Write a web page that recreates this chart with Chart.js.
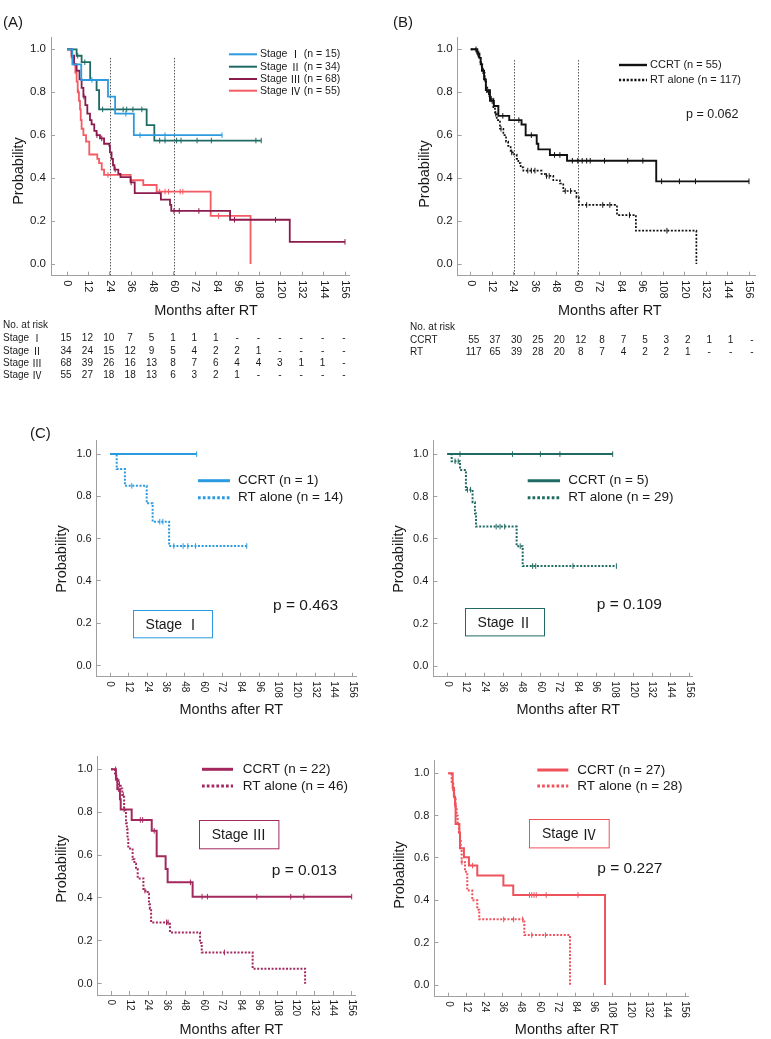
<!DOCTYPE html>
<html>
<head>
<meta charset="utf-8">
<script src="https://cdn.jsdelivr.net/npm/chart.js@4.4.1/dist/chart.umd.min.js"></script>
<style>
  body{margin:0;background:#fff;width:771px;height:1039px;position:relative;overflow:hidden;
       font-family:"Liberation Sans",Arial,"Noto Sans CJK JP",sans-serif}
  .pl{position:absolute;font-size:15px;color:#1a1a1a;line-height:16px;z-index:2}
  canvas{display:block}
</style>
</head>
<body>
<div class="pl" style="left:3px;top:14px">(A)</div>
<div class="pl" style="left:393px;top:14px">(B)</div>
<div class="pl" style="left:30px;top:425px">(C)</div>

<script>
// ---- axis ticks ----
const monthTicks = [0, 12, 24, 36, 48, 60, 72, 84, 96, 108, 120, 132, 144, 156];
const probTicks = [0, 0.2, 0.4, 0.6, 0.8, 1.0];
const refMonths = [24, 60];

// ---- (A) by stage: step times (months), survival, censor times ----
const aS1T = [0, 3, 8, 23, 27, 37.5, 87];
const aS1S = [1, 0.93, 0.857, 0.78, 0.70, 0.60, 0.60];
const aS1C = [14, 33, 41, 55, 87];
const aS2T = [0, 5.4, 8.2, 13, 16.6, 18, 44.7, 49, 109];
const aS2S = [1, 0.97, 0.94, 0.857, 0.81, 0.72, 0.647, 0.575, 0.575];
const aS2C = [6, 10, 20, 31.5, 33.5, 37, 42, 52, 55, 61.5, 64, 73, 81, 106, 109];
const aS3T = [0, 2.6, 4, 5.4, 7, 8.2, 9.2, 10.3, 11.4, 12.9, 13.8, 15.3, 16.6, 18.5, 20.8, 23.8, 24.1, 25, 25.8, 26.6, 28.8, 30, 35.7, 38, 52.7, 57.8, 58.5, 91.5, 125, 156];
const aS3S = [1, 0.97, 0.93, 0.90, 0.86, 0.82, 0.78, 0.74, 0.70, 0.67, 0.65, 0.62, 0.60, 0.585, 0.56, 0.55, 0.52, 0.49, 0.46, 0.44, 0.42, 0.405, 0.38, 0.33, 0.30, 0.275, 0.247, 0.206, 0.103, 0.103];
const aS3C = [9.5, 16.8, 19.5, 27, 36, 60, 63, 74, 94, 117, 156];
const aS4T = [0, 2.6, 4, 4.7, 5.4, 6, 6.7, 7.3, 7.7, 8.2, 9.2, 10.7, 12.5, 17, 18, 19.5, 20.8, 35.7, 42.8, 50.3, 80.6, 103];
const aS4S = [1, 0.96, 0.93, 0.89, 0.85, 0.80, 0.76, 0.72, 0.67, 0.63, 0.60, 0.57, 0.51, 0.49, 0.47, 0.44, 0.415, 0.39, 0.368, 0.337, 0.224, 0];
const aS4C = [6.5, 23, 52, 55, 57, 63.5, 65, 85];
const aRiskRows = ['Stage Ⅰ', 'Stage Ⅱ', 'Stage Ⅲ', 'Stage Ⅳ'];
const aRisk1 = ['15', '12', '10', '7', '5', '1', '1', '1', '-', '-', '-', '-', '-', '-'];
const aRisk2 = ['34', '24', '15', '12', '9', '5', '4', '2', '2', '1', '-', '-', '-', '-'];
const aRisk3 = ['68', '39', '26', '16', '13', '8', '7', '6', '4', '4', '3', '1', '1', '-'];
const aRisk4 = ['55', '27', '18', '18', '13', '6', '3', '2', '1', '-', '-', '-', '-', '-'];

// ---- (B) CCRT vs RT alone ----
const bCcT = [0, 3.7, 4.9, 5.6, 6.3, 7.5, 8.5, 10.8, 13, 15.5, 21.6, 28.5, 30.8, 37, 37.9, 44.4, 54, 104, 156];
const bCcS = [1, 0.98, 0.96, 0.93, 0.90, 0.86, 0.81, 0.76, 0.736, 0.69, 0.67, 0.65, 0.60, 0.56, 0.534, 0.508, 0.481, 0.385, 0.385];
const bCcC = [3, 4.5, 7, 9, 12, 18, 27, 34, 47, 50, 57, 60, 62.5, 65, 67, 75, 88, 96.5, 107, 117, 126, 156];
const bRtT = [0, 3.3, 4.5, 5.5, 6.5, 7, 7.8, 8.5, 9.3, 10.5, 12.7, 13.6, 14.6, 16.4, 18.3, 19.8, 21, 22.4, 24.3, 25.8, 26.7, 28, 29.5, 39.7, 41.6, 46.3, 50, 51.9, 59.3, 60.6, 82, 92.6, 126.5];
const bRtS = [1, 0.98, 0.96, 0.93, 0.91, 0.89, 0.86, 0.83, 0.80, 0.77, 0.73, 0.70, 0.67, 0.63, 0.60, 0.57, 0.55, 0.52, 0.51, 0.49, 0.47, 0.45, 0.435, 0.42, 0.41, 0.39, 0.375, 0.34, 0.31, 0.275, 0.228, 0.155, 0];
const bRtC = [4, 6, 8, 10, 11.5, 14, 17, 23, 32, 34, 36, 42.5, 44, 53, 56, 65, 74, 78, 89, 110];
const bRiskRows = ['CCRT', 'RT'];
const bRiskCc = ['55', '37', '30', '25', '20', '12', '8', '7', '5', '3', '2', '1', '1', '-'];
const bRiskRt = ['117', '65', '39', '28', '20', '8', '7', '4', '2', '2', '1', '-', '-', '-'];

// ---- (C) by stage, CCRT vs RT alone ----
const c1CcT = [0, 55.7], c1CcS = [1, 1], c1CcC = [55.7];
const c1RtT = [0, 4.3, 9.6, 23.6, 27.4, 38, 87.9];
const c1RtS = [1, 0.929, 0.85, 0.767, 0.68, 0.565, 0.565];
const c1RtC = [14, 32, 34, 41, 47, 50, 55, 87.9];

const c2CcT = [0, 106.6], c2CcS = [1, 1], c2CcC = [8.2, 42, 60, 72.6, 106.6];
const c2RtT = [0, 2.8, 8.2, 12, 16.3, 17.8, 18.5, 44.7, 48.6, 109];
const c2RtS = [1, 0.966, 0.925, 0.832, 0.773, 0.72, 0.658, 0.566, 0.472, 0.472];
const c2RtC = [5, 7, 13, 15, 31.5, 34, 37, 47, 55, 57, 81, 109];

const c3CcT = [0, 3.2, 4.1, 5.8, 6.3, 13.4, 26.4, 29.6, 35.4, 36.7, 52.9, 156];
const c3CcS = [1, 0.955, 0.907, 0.86, 0.813, 0.764, 0.713, 0.594, 0.535, 0.473, 0.406, 0.406];
const c3CcC = [3, 5, 8.5, 19, 20.5, 28, 51.5, 59, 62.5, 94.5, 116.5, 125, 156];
const c3RtT = [0, 2.6, 3.5, 4.8, 6.3, 7.3, 8.5, 9.7, 10.3, 10.7, 11.2, 14, 15.2, 16.2, 17.3, 21, 23.8, 24.6, 25.2, 26, 38.2, 57.7, 58.8, 91.8, 125.8];
const c3RtS = [1, 0.97, 0.95, 0.93, 0.91, 0.88, 0.81, 0.748, 0.72, 0.68, 0.631, 0.58, 0.56, 0.535, 0.491, 0.434, 0.42, 0.37, 0.35, 0.286, 0.239, 0.19, 0.146, 0.07, 0];
const c3RtC = [4, 5.5, 8, 22, 36, 37, 73.5];

const c4CcT = [0, 2.9, 3.7, 4.4, 4.8, 7.3, 7.7, 10.3, 13.6, 19.1, 36.3, 42.8, 103.3];
const c4CcS = [1, 0.93, 0.89, 0.85, 0.76, 0.72, 0.646, 0.603, 0.564, 0.517, 0.47, 0.425, 0];
const c4CcC = [3, 16, 53.5, 55, 56.5, 58, 64.5, 85.5];
const c4RtT = [0, 2.2, 3.3, 3.9, 4.8, 5.5, 6.2, 7, 7.7, 8.2, 8.8, 11, 12.5, 15.8, 19.1, 20.4, 50.1, 80.2];
const c4RtS = [1, 0.96, 0.92, 0.88, 0.84, 0.80, 0.76, 0.72, 0.68, 0.64, 0.58, 0.535, 0.446, 0.40, 0.356, 0.31, 0.236, 0];
const c4RtC = [5, 9, 36.5, 43, 49, 55, 64];

// ---- styles ----
const FAM = '"Liberation Sans", Arial, "Noto Sans CJK JP", sans-serif';
const CJK = '"Noto Sans CJK JP", "Liberation Sans", sans-serif';
const TXT = '#1a1a1a';
const AXIS = '#a0a0a0';
const BLUE = '#2b9ae0', TEAL = '#1f6b64', MAROON = '#8c1a4c', SALMON = '#f45b62';
const RASP = '#a3285e', RED = '#f0525c';
const DOT = [2, 1.6];

function levelAt(T, S, t) {
  let s = S[0];
  for (let i = 0; i < T.length; i++) if (T[i] <= t) s = S[i];
  return s;
}
function curve(label, T, S, C, color, dash, width) {
  return [
    { label, data: T.map((t, i) => ({ x: t, y: S[i] })), stepped: true, borderColor: color,
      borderWidth: width, borderDash: dash, pointRadius: 0, fill: false },
    { label: '', censor: true, data: C.map(t => ({ x: t, y: levelAt(T, S, t) })), showLine: false,
      pointStyle: 'line', pointRotation: 90, pointRadius: 2.8, pointBorderColor: color,
      pointBorderWidth: 1, borderColor: color }
  ];
}

// text with full-width roman numerals drawn in the CJK face
function mixedText(ctx, text, x, y, size, align) {
  const parts = [];
  for (const ch of text) {
    const wide = ch >= '\u2160' && ch <= '\u216f';
    const last = parts[parts.length - 1];
    if (last && last.wide === wide) last.s += ch; else parts.push({ s: ch, wide });
  }
  let total = 0;
  parts.forEach(p => {
    ctx.font = size + 'px ' + (p.wide ? CJK : FAM);
    p.w = ctx.measureText(p.s).width;
    total += p.w;
  });
  let cx = align === 'center' ? x - total / 2 : x;
  ctx.textAlign = 'left';
  parts.forEach(p => {
    ctx.font = size + 'px ' + (p.wide ? CJK : FAM);
    ctx.fillText(p.s, cx, y);
    cx += p.w;
  });
}

const kmPlugin = {
  id: 'km',
  beforeDatasetsDraw(chart) {
    const o = chart.options.plugins.km, ctx = chart.ctx;
    const xs = chart.scales.x, ys = chart.scales.y;
    if (!o.refs) return;
    ctx.save();
    ctx.strokeStyle = '#555'; ctx.lineWidth = 1; ctx.setLineDash([1.5, 1.5]);
    o.refs.forEach(m => {
      const px = Math.round(xs.getPixelForValue(m)) + 0.5;
      ctx.beginPath(); ctx.moveTo(px, ys.getPixelForValue(o.refTop)); ctx.lineTo(px, ys.bottom); ctx.stroke();
    });
    ctx.restore();
  },
  afterDraw(chart) {
    const o = chart.options.plugins.km, ctx = chart.ctx;
    const xs = chart.scales.x;
    const ox = o.ox, oy = o.oy;
    ctx.save();
    ctx.fillStyle = TXT;
    // rotated month labels
    ctx.font = o.xFont + 'px ' + FAM;
    ctx.textAlign = 'left'; ctx.textBaseline = 'middle';
    xs.ticks.forEach(t => {
      ctx.save();
      ctx.translate(xs.getPixelForValue(t.value), xs.top + o.xGap);
      ctx.rotate(Math.PI / 2);
      ctx.fillText(String(t.value), 0, 0);
      ctx.restore();
    });
    // axis titles
    ctx.font = o.titleFont + 'px ' + FAM;
    ctx.textAlign = 'center';
    ctx.fillText('Months after RT', (xs.getPixelForValue(0) + xs.getPixelForValue(156)) / 2, o.xTitleY - oy);
    ctx.save();
    ctx.translate(o.yTitle[0] - ox, o.yTitle[1] - oy);
    ctx.rotate(-Math.PI / 2);
    ctx.fillText('Probability', 0, 0);
    ctx.restore();
    // legend
    const lg = o.legend;
    const items = chart.data.datasets.filter(d => !d.censor && d.label);
    items.forEach((d, i) => {
      const y = lg.ys[i] - oy;
      ctx.save();
      ctx.strokeStyle = d.borderColor; ctx.lineWidth = lg.lw;
      ctx.setLineDash(d.borderDash && d.borderDash.length ? [lg.lw * 0.9, lg.lw * 0.7] : []);
      ctx.beginPath(); ctx.moveTo(lg.x0 - ox, y); ctx.lineTo(lg.x1 - ox, y); ctx.stroke();
      ctx.restore();
      mixedText(ctx, d.label, lg.tx - ox, y, lg.font, 'left');
    });
    // p value
    if (o.p) {
      ctx.font = o.p.font + 'px ' + FAM;
      ctx.textAlign = 'left';
      ctx.fillText(o.p.text, o.p.x - ox, o.p.y - oy);
    }
    // stage box
    if (o.box) {
      const b = o.box;
      ctx.strokeStyle = b.color; ctx.lineWidth = 1;
      ctx.strokeRect(Math.round(b.x - ox) + 0.5, Math.round(b.y - oy) + 0.5, b.w, b.h);
      mixedText(ctx, b.text, b.x - ox + b.w / 2, b.y - oy + b.h / 2 + 1, b.font, 'center');
    }
    // numbers at risk
    if (o.table) {
      const tb = o.table;
      ctx.font = tb.font + 'px ' + FAM;
      ctx.textAlign = 'left';
      ctx.fillText('No. at risk', tb.x - ox, tb.hy - oy);
      tb.rows.forEach(r => {
        mixedText(ctx, r.label, tb.x - ox, r.y - oy, tb.font, 'left');
        ctx.font = tb.font + 'px ' + FAM;
        ctx.textAlign = 'center';
        xs.ticks.forEach((t, i) => {
          if (r.vals[i] !== undefined) ctx.fillText(r.vals[i], xs.getPixelForValue(t.value) + (tb.dx || 0), r.y - oy);
        });
      });
    }
    ctx.restore();
  }
};

function panel(p) {
  const wrap = document.createElement('div');
  wrap.style.cssText = `position:absolute;left:${p.left}px;top:${p.top}px;width:${p.w}px;height:${p.h}px`;
  const cv = document.createElement('canvas');
  cv.width = p.w; cv.height = p.h;
  cv.style.width = p.w + 'px'; cv.style.height = p.h + 'px';
  wrap.appendChild(cv);
  document.body.appendChild(wrap);

  const kx = (p.x156 - p.x0) / 156, ky = p.y0 - p.y1;
  const xMin = -(p.x0 - p.L) / kx, xMax = 156 + (p.R - p.x156) / kx;
  const yMax = 1 + (p.y1 - p.T) / ky, yMin = -(p.B - p.y0) / ky;
  const L = p.L - p.left, R = p.R - p.left, T = p.T - p.top, B = p.B - p.top;
  const yW = 30, xH = 12;

  new Chart(cv, {
    type: 'line',
    data: { datasets: p.datasets },
    options: {
      responsive: false, animation: false, devicePixelRatio: 1, events: [],
      layout: { padding: { left: L - yW, right: p.w - R, top: T, bottom: p.h - B - xH } },
      scales: {
        x: {
          type: 'linear', min: xMin, max: xMax,
          afterBuildTicks: s => { s.ticks = monthTicks.map(v => ({ value: v })); },
          afterFit: s => { s.height = xH; },
          ticks: { display: false },
          grid: { drawOnChartArea: false, tickLength: -4, color: AXIS },
          border: { color: AXIS, width: 1 }
        },
        y: {
          type: 'linear', min: yMin, max: yMax,
          afterBuildTicks: s => { s.ticks = probTicks.map(v => ({ value: v })); },
          afterFit: s => { s.width = yW; },
          ticks: { font: { family: FAM, size: p.yFont }, color: TXT, padding: 9, callback: v => v.toFixed(1) },
          grid: { drawOnChartArea: false, tickLength: -4, color: AXIS },
          border: { color: AXIS, width: 1 }
        }
      },
      plugins: {
        legend: { display: false }, tooltip: { enabled: false },
        km: {
          ox: p.left, oy: p.top, xFont: p.xFont, xGap: p.xGap, titleFont: p.titleFont,
          xTitleY: p.xTitleY, yTitle: p.yTitle, legend: p.legend, p: p.p, box: p.box,
          table: p.table, refs: p.refs, refTop: p.refTop
        }
      }
    },
    plugins: [kmPlugin]
  });
}

// (A)
panel({
  left: 0, top: 0, w: 390, h: 390,
  L: 51, R: 349, T: 37, B: 275.7, x0: 67, x156: 345, y1: 49.3, y0: 264,
  yFont: 11.5, xFont: 11, xGap: 4.5, titleFont: 14.5, xTitleY: 311, yTitle: [19, 171],
  refs: refMonths, refTop: 0.96,
  datasets: [
    ...curve('Stage Ⅰ (n = 15)', aS1T, aS1S, aS1C, BLUE, [], 1.8),
    ...curve('Stage Ⅱ (n = 34)', aS2T, aS2S, aS2C, TEAL, [], 1.8),
    ...curve('Stage Ⅲ (n = 68)', aS3T, aS3S, aS3C, MAROON, [], 1.8),
    ...curve('Stage Ⅳ (n = 55)', aS4T, aS4S, aS4C, SALMON, [], 1.8)
  ],
  legend: { x0: 229, x1: 257, tx: 260, ys: [54.3, 66.7, 79, 90.7], font: 10.5, lw: 2 },
  table: { x: 3, hy: 325, font: 10, dx: -1, rows: [
    { label: aRiskRows[0], vals: aRisk1, y: 338 },
    { label: aRiskRows[1], vals: aRisk2, y: 351 },
    { label: aRiskRows[2], vals: aRisk3, y: 363 },
    { label: aRiskRows[3], vals: aRisk4, y: 375 }
  ] }
});

// (B)
panel({
  left: 390, top: 0, w: 381, h: 390,
  L: 457.7, R: 755, T: 37, B: 275.7, x0: 470.7, x156: 749, y1: 49.3, y0: 264,
  yFont: 11.5, xFont: 11, xGap: 4.5, titleFont: 14.5, xTitleY: 311, yTitle: [425, 174],
  refs: refMonths, refTop: 0.95,
  datasets: [
    ...curve('CCRT (n = 55)', bCcT, bCcS, bCcC, '#111', [], 1.9),
    ...curve('RT alone (n = 117)', bRtT, bRtS, bRtC, '#111', DOT, 1.7)
  ],
  legend: { x0: 619, x1: 647, tx: 650, ys: [65, 80], font: 11, lw: 2.4 },
  p: { text: 'p = 0.062', x: 686, y: 115, font: 12.5 },
  table: { x: 410, hy: 327, font: 10, dx: 3, rows: [
    { label: bRiskRows[0], vals: bRiskCc, y: 340 },
    { label: bRiskRows[1], vals: bRiskRt, y: 352 }
  ] }
});

// (C) Stage I
panel({
  left: 0, top: 425, w: 385, h: 300,
  L: 96.7, R: 356, T: 437, B: 676.7, x0: 110, x156: 352.7, y1: 450.7, y0: 665.3,
  yFont: 11, xFont: 10, xGap: 4.5, titleFont: 14.5, xTitleY: 710, yTitle: [62, 559],
  datasets: [
    ...curve('CCRT (n = 1)', c1CcT, c1CcS, c1CcC, BLUE, [], 2),
    ...curve('RT alone (n = 14)', c1RtT, c1RtS, c1RtC, BLUE, DOT, 2)
  ],
  legend: { x0: 198, x1: 230, tx: 238, ys: [480.7, 497.7], font: 13.5, lw: 3 },
  p: { text: 'p = 0.463', x: 273, y: 605.7, font: 15.5 },
  box: { text: 'Stage Ⅰ', x: 133.3, y: 610, w: 79, h: 27.3, color: BLUE, font: 14 }
});

// (C) Stage II
panel({
  left: 385, top: 425, w: 386, h: 300,
  L: 433.3, R: 692.7, T: 437, B: 676.7, x0: 447.3, x156: 689.3, y1: 450.7, y0: 666,
  yFont: 11, xFont: 10, xGap: 4.5, titleFont: 14.5, xTitleY: 710, yTitle: [399, 559],
  datasets: [
    ...curve('CCRT (n = 5)', c2CcT, c2CcS, c2CcC, TEAL, [], 2),
    ...curve('RT alone (n = 29)', c2RtT, c2RtS, c2RtC, TEAL, DOT, 2)
  ],
  legend: { x0: 527.7, x1: 560, tx: 568.3, ys: [480.7, 497.7], font: 13.5, lw: 3 },
  p: { text: 'p = 0.109', x: 596.7, y: 605, font: 15.5 },
  box: { text: 'Stage Ⅱ', x: 465.3, y: 608.3, w: 79, h: 27.4, color: TEAL, font: 14 }
});

// (C) Stage III
panel({
  left: 0, top: 735, w: 385, h: 304,
  L: 97.7, R: 355, T: 756, B: 995, x0: 111, x156: 351.7, y1: 769.3, y0: 983.7,
  yFont: 11, xFont: 10, xGap: 4.5, titleFont: 14.5, xTitleY: 1030, yTitle: [62, 869],
  datasets: [
    ...curve('CCRT (n = 22)', c3CcT, c3CcS, c3CcC, RASP, [], 2),
    ...curve('RT alone (n = 46)', c3RtT, c3RtS, c3RtC, RASP, DOT, 2)
  ],
  legend: { x0: 202, x1: 233, tx: 242.7, ys: [769.3, 786], font: 13.5, lw: 3 },
  p: { text: 'p = 0.013', x: 271.7, y: 870.7, font: 15.5 },
  box: { text: 'Stage Ⅲ', x: 199.3, y: 820, w: 79.4, h: 28.3, color: RASP, font: 14 }
});

// (C) Stage IV
panel({
  left: 385, top: 735, w: 386, h: 304,
  L: 434.3, R: 688.3, T: 760, B: 996.7, x0: 448.3, x156: 685, y1: 773.3, y0: 985,
  yFont: 11, xFont: 10, xGap: 4.5, titleFont: 14.5, xTitleY: 1030, yTitle: [400, 875],
  datasets: [
    ...curve('CCRT (n = 27)', c4CcT, c4CcS, c4CcC, RED, [], 2),
    ...curve('RT alone (n = 28)', c4RtT, c4RtS, c4RtC, RED, DOT, 2)
  ],
  legend: { x0: 537.3, x1: 568.3, tx: 577.3, ys: [770, 786], font: 13.5, lw: 3 },
  p: { text: 'p = 0.227', x: 597.3, y: 868.3, font: 15.5 },
  box: { text: 'Stage Ⅳ', x: 529.3, y: 819.3, w: 79.7, h: 28.4, color: RED, font: 14 }
});
</script>
</body>
</html>
